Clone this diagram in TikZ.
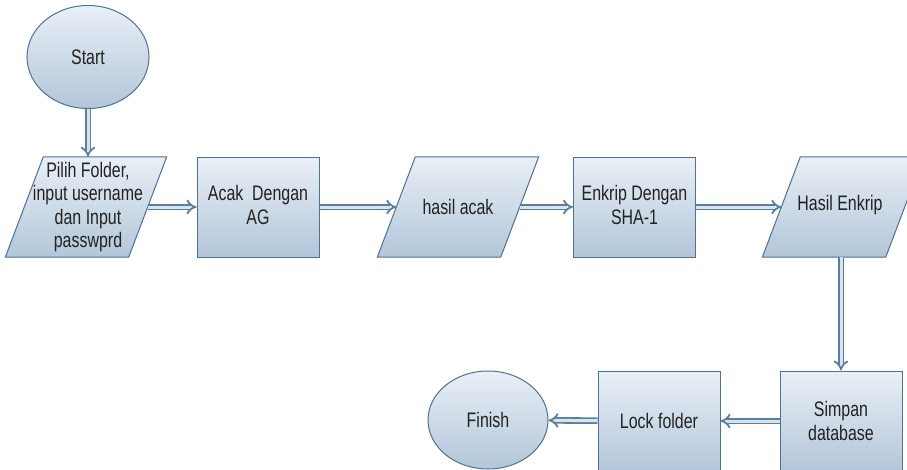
\documentclass[tikz,border=0pt]{standalone}
\usepackage{fontspec}
\setmainfont[FakeStretch=0.76]{Liberation Sans}
\usetikzlibrary{shapes.geometric,arrows.meta}
\definecolor{edge}{HTML}{4F7196}
\definecolor{topc}{HTML}{E9EFF6}
\definecolor{botc}{HTML}{B3C6D9}
\definecolor{arrout}{HTML}{5B7E9E}
\definecolor{arrin}{HTML}{D8E3EE}
\definecolor{txtc}{HTML}{222222}
\tikzset{
  x=1pt, y=-1pt,
  shade/.style={draw=edge, line width=1pt, top color=topc, bottom color=botc},
  procbox/.style={shade, rectangle, minimum width=122pt, minimum height=100pt, inner sep=0pt},
  terminal/.style={shade, ellipse, minimum width=122pt, minimum height=100pt, inner sep=0pt},
  iocore/.style={rectangle, minimum width=123pt, minimum height=100pt, inner sep=0pt},
  txt/.style={text=txtc, font=\fontsize{21pt}{23.5pt}\selectfont, align=center, inner sep=0pt},
  flow/.style={draw=arrout, line width=1.8pt, double=arrin, double distance=3pt,
    -{Implies[length=5pt]}},
}
\newcommand\iopath[1]{%
  \path[shade] ([xshift=19pt]#1.north west) -- ([xshift=19pt]#1.north east)
    -- ([xshift=-19pt]#1.south east) -- ([xshift=-19pt]#1.south west) -- cycle;}
\begin{document}
\begin{tikzpicture}
\clip (0,0) rectangle (907,469);
\fill[white] (0,0) rectangle (907,469);

\node[terminal, minimum height=103pt] (start) at (88,57) {};
\node[txt] at (start) {Start};

\node[iocore] (p1) at (86,207) {};
\iopath{p1}
\node[txt] at (88,207) {Pilih Folder,\\input username\\dan Input\\passwprd};

\node[procbox] (acak) at (258,207) {};
\node[txt] at (258,205) {Acak~~Dengan\\AG};

\node[iocore] (hacak) at (458,207) {};
\iopath{hacak}
\node[txt] at (hacak) {hasil acak};

\node[procbox] (enk) at (634.5,207) {};
\node[txt] at (634.5,205) {Enkrip Dengan\\SHA-1};

\node[iocore] (henk) at (843,207) {};
\iopath{henk}
\node[txt] at (840,205) {Hasil Enkrip};

\node[procbox] (simpan) at (841,421) {};
\node[txt] at (simpan) {Simpan\\database};

\node[procbox] (lock) at (659,421) {};
\node[txt] at (lock) {Lock folder};

\node[terminal, minimum width=120pt, minimum height=98pt] (finish) at (488,420) {};
\node[txt] at (finish) {Finish};

\draw[flow] (start.south) -- (start.south |- p1.north);
\draw[flow] (p1) -- (acak);
\draw[flow] (acak) -- (hacak);
\draw[flow] (hacak) -- (enk);
\draw[flow] (enk) -- (henk);
\draw[flow] (henk.south -| simpan.north) -- (simpan.north);
\draw[flow] (simpan) -- (lock);
\draw[flow] (lock) -- (finish);
\end{tikzpicture}
\end{document}
